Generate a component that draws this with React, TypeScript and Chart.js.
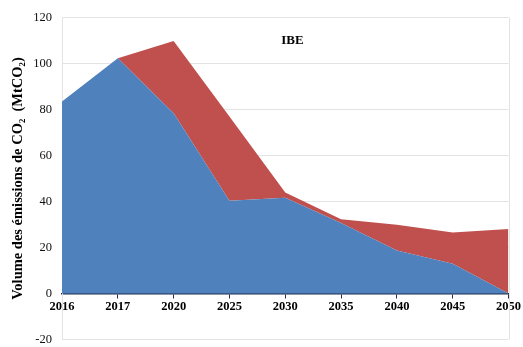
import React, { useEffect, useRef } from "react";
import { Chart, registerables } from "chart.js";

Chart.register(...registerables);

const years = ["2016", "2017", "2020", "2025", "2030", "2035", "2040", "2045", "2050"];
const baseSeries = [83.5, 102.3, 78.4, 40.3, 41.6, 30.6, 18.7, 12.9, 0];
const totalSeries = [83.5, 102.3, 109.8, 77, 43.9, 32.3, 29.9, 26.5, 28];
const yMin = -20;
const yMax = 120;
const chartTitle = "IBE";
const yTitle = "Volume des émissions de CO₂  (MtCO₂)";

const FONT = "'Liberation Serif', 'Times New Roman', serif";

const framePlugin = {
  id: "frame",
  beforeDatasetsDraw(chart: any) {
    const { ctx, chartArea } = chart;
    ctx.save();
    ctx.strokeStyle = "#e3e3e3";
    ctx.lineWidth = 1;
    ctx.beginPath();
    ctx.moveTo(Math.round(chartArea.right) + 0.5, chartArea.top);
    ctx.lineTo(Math.round(chartArea.right) + 0.5, chartArea.bottom);
    ctx.stroke();
    ctx.restore();
  },
  afterDatasetsDraw(chart: any) {
    const { ctx, chartArea, scales } = chart;
    ctx.save();
    ctx.fillStyle = "#000";
    ctx.font = `bold 13px ${FONT}`;
    ctx.textAlign = "center";
    ctx.textBaseline = "middle";
    const x = chartArea.left + (chartArea.right - chartArea.left) * 0.516;
    ctx.fillText(chartTitle, x, scales.y.getPixelForValue(110));
    ctx.restore();
  },
};

export default function App() {
  const ref = useRef<HTMLCanvasElement | null>(null);
  useEffect(() => {
    if (!ref.current) return;
    const chart = new Chart(ref.current, {
      type: "line",
      data: {
        labels: years,
        datasets: [
          {
            data: baseSeries,
            backgroundColor: "#4F81BD",
            borderWidth: 0,
            pointRadius: 0,
            fill: "origin",
            tension: 0,
            order: 1,
          },
          {
            data: totalSeries,
            backgroundColor: "#C0504D",
            borderWidth: 0,
            pointRadius: 0,
            fill: "-1",
            tension: 0,
            order: 2,
          },
        ],
      },
      options: {
        animation: false,
        responsive: false,
        layout: { padding: { top: 8, right: 13, bottom: 3, left: 0 } },
        plugins: { legend: { display: false }, tooltip: { enabled: false } },
        scales: {
          x: {
            type: "category",
            position: { y: 0 },
            offset: false,
            grid: {
              color: "transparent",
              drawOnChartArea: false,
              drawTicks: true,
              tickLength: 4,
              tickColor: "#1f2d4d",
            },
            border: { color: "#1f2d4d", width: 1.5 },
            ticks: {
              color: "#000",
              font: { family: FONT, size: 12.5, weight: "bold" },
              padding: 2,
              maxRotation: 0,
              autoSkip: false,
            },
          },
          y: {
            min: yMin,
            max: yMax,
            afterFit(scale: any) {
              scale.width = 62;
            },
            grid: { color: "#e3e3e3", drawTicks: false },
            border: { color: "#e3e3e3" },
            ticks: {
              stepSize: 20,
              color: "#111",
              font: { family: FONT, size: 12.5 },
              padding: 10,
            },
            title: {
              display: true,
              text: yTitle,
              color: "#000",
              font: { family: FONT, size: 14.5, weight: "bold" },
              padding: { top: 10, bottom: 0 },
            },
          },
        },
      },
      plugins: [framePlugin],
    } as any);
    return () => chart.destroy();
  }, []);
  return (
    <div style={{ position: "fixed", left: 0, top: 0, width: 523, height: 347, overflow: "hidden" }}>
      <canvas ref={ref} width={523} height={357} />
    </div>
  );
}
